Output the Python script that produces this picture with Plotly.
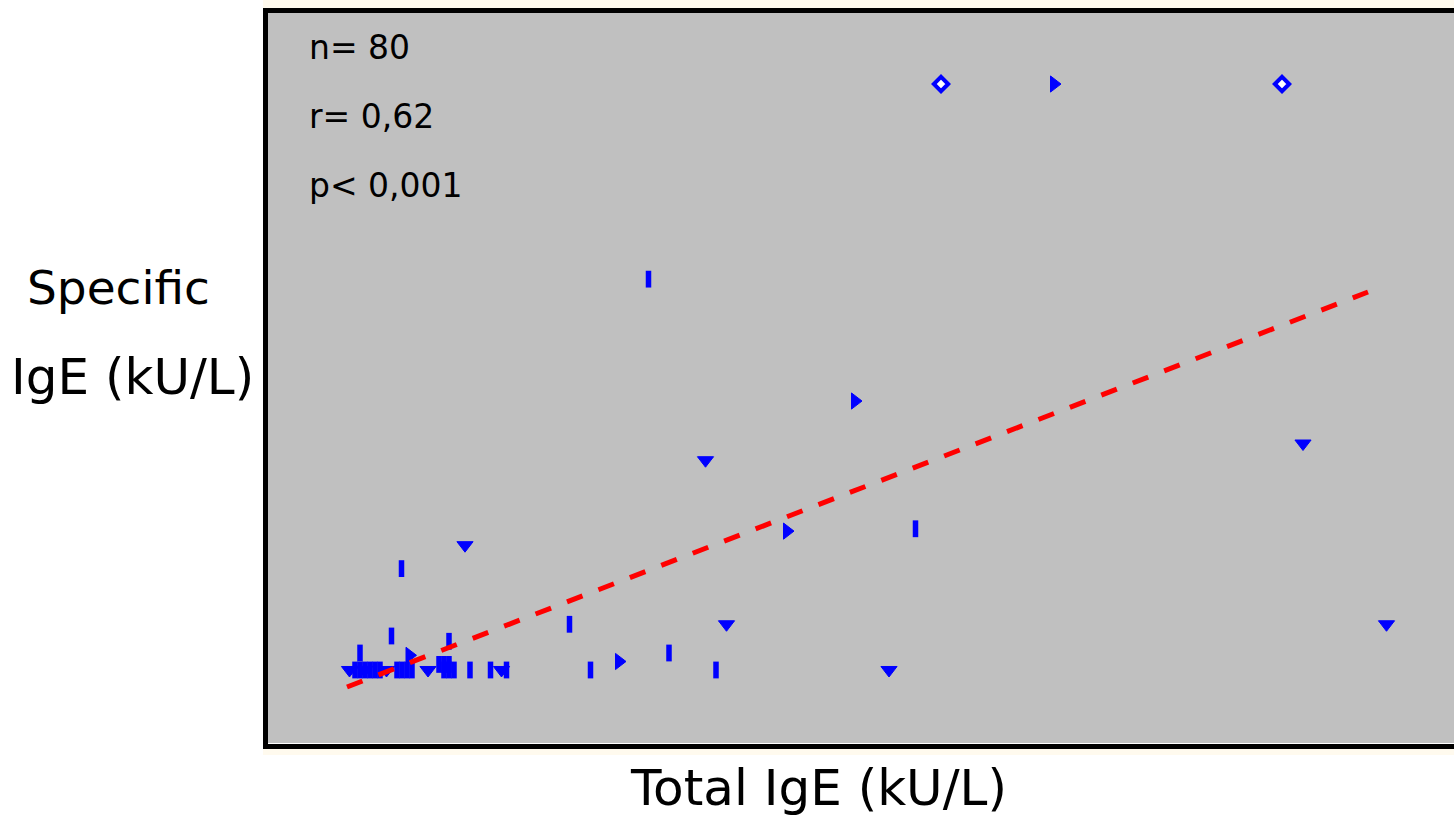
import plotly.graph_objects as go

# Scatter points: Total IgE (x) vs Specific IgE (y), grouped by marker style
diamond_x = [1202, 1884]
diamond_y = [100, 100]

triright_x = [1428, 1030, 894, 558, 139]
triright_y = [100, 45.9, 23.7, 1.45, 2.5]

tri_x = [1926, 731, 250, 773, 2093, 1098, 19, 49, 93, 176, 323]
tri_y = [38.65, 35.8, 21.3, 7.8, 7.8, 0, 0, 0, 0, 0, 0]

bar_x = [617, 1151, 123, 459, 103, 218, 40, 658, 501, 752, 260,
         30, 40, 50, 60, 70, 80, 114, 124, 134, 144,
         198, 208, 218, 208, 218, 228, 301, 333]
bar_y = [66.7, 24.1, 17.3, 7.8, 5.8, 4.9, 2.9, 2.9, 0, 0, 0,
         0, 0, 0, 0, 0, 0, 0, 0, 0, 0,
         0.95, 0.95, 0.95, 0, 0, 0, 0, 0]

# Regression line end points
line_x = [14, 2056]
line_y = [-2.9, 64.5]

annot_lines = ["n= 80", "r= 0,62", "p< 0,001"]
x_title = "Total IgE (kU/L)"
y_title_lines = ["Specific", "IgE (kU/L)"]

BLUE = "#0000FF"
RED = "#FF0000"

fig = go.Figure()
fig.add_trace(go.Scatter(x=bar_x, y=bar_y, mode="markers",
                         marker=dict(symbol="line-ns", size=12,
                                     line=dict(color=BLUE, width=5.5))))
fig.add_trace(go.Scatter(x=tri_x, y=tri_y, mode="markers",
                         marker=dict(symbol="triangle-down", size=14, color=BLUE,
                                     line=dict(color=BLUE, width=1))))
fig.add_trace(go.Scatter(x=triright_x, y=triright_y, mode="markers",
                         marker=dict(symbol="triangle-right", size=14, color=BLUE,
                                     line=dict(color=BLUE, width=1))))
fig.add_trace(go.Scatter(x=diamond_x, y=diamond_y, mode="markers",
                         marker=dict(symbol="diamond", size=11, color="white",
                                     line=dict(color=BLUE, width=4))))
fig.add_trace(go.Scatter(x=line_x, y=line_y, mode="lines",
                         line=dict(color=RED, width=5, dash="16.6px,17.1px")))

W, H = 1454, 817
L, T, B = 268, 13, 74
PW, PH = W - L, H - T - B


def px(xp):
    return (xp - L) / PW


def py(yp):
    return (H - B - yp) / PH


shapes = [
    dict(type="rect", xref="paper", yref="paper", x0=px(263), x1=px(1460),
         y0=py(8), y1=py(0), fillcolor="#FFFAEE", line=dict(width=0), layer="below"),
    dict(type="rect", xref="paper", yref="paper", x0=px(263), x1=px(1460),
         y0=py(755), y1=py(749), fillcolor="#FFFAEE", line=dict(width=0), layer="below"),
    dict(type="rect", xref="paper", yref="paper", x0=px(265.5), x1=px(1470),
         y0=py(746.5), y1=py(10.5), line=dict(color="black", width=5)),
]

annotations = []
for i, t in enumerate(annot_lines):
    annotations.append(dict(text=t, xref="paper", yref="paper", x=px(307), y=py(48 + 68.5 * i),
                            xanchor="left", yanchor="middle", showarrow=False,
                            font=dict(family="DejaVu Sans", size=33, color="black")))
annotations.append(dict(text=x_title, xref="paper", yref="paper", x=px(818), y=py(788),
                        xanchor="center", yanchor="middle", showarrow=False,
                        font=dict(family="DejaVu Sans", size=50, color="black")))
annotations.append(dict(text=y_title_lines[0], xref="paper", yref="paper", x=px(118), y=py(287),
                        xanchor="center", yanchor="middle", showarrow=False,
                        font=dict(family="DejaVu Sans", size=47, color="black")))
annotations.append(dict(text=y_title_lines[1], xref="paper", yref="paper", x=px(132), y=py(377),
                        xanchor="center", yanchor="middle", showarrow=False,
                        font=dict(family="DejaVu Sans", size=50, color="black")))

axis_common = dict(showgrid=False, zeroline=False, showticklabels=False, ticks="",
                   showline=False, fixedrange=True)
fig.update_layout(
    width=W, height=H,
    margin=dict(l=L, r=0, t=T, b=B, pad=0),
    paper_bgcolor="white", plot_bgcolor="#C0C0C0",
    showlegend=False,
    xaxis=dict(range=[-144, 2228], **axis_common),
    yaxis=dict(range=[-12.46, 112.12], **axis_common),
    shapes=shapes, annotations=annotations,
)

fig.write_html("out.html", config={"displayModeBar": False},
               post_script="document.body.style.margin='0';document.body.style.overflow='hidden';")
